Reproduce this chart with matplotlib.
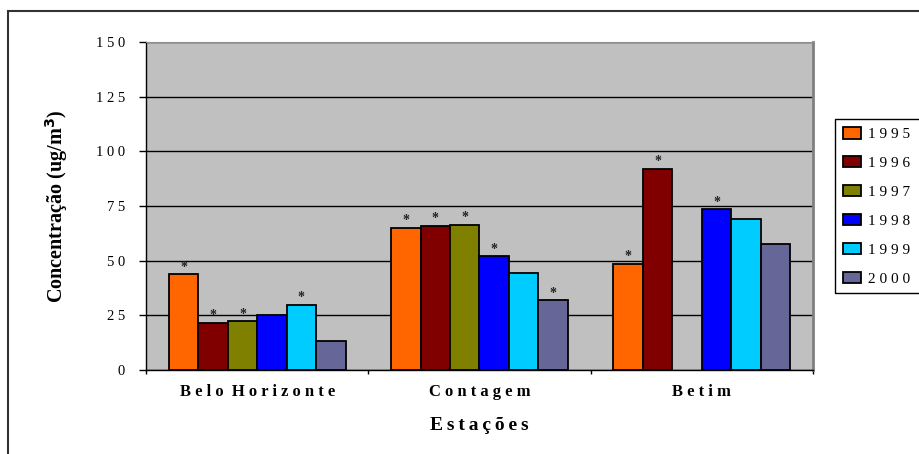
import numpy as np
import matplotlib
matplotlib.use("Agg")
import matplotlib.pyplot as plt
from matplotlib.patches import Rectangle

plt.rcParams['font.family'] = ['Liberation Serif', 'DejaVu Serif']

# Stations (categories) and yearly mean concentrations (ug/m3)
estacoes = ["Belo Horizonte", "Contagem", "Betim"]
anos = ["1995", "1996", "1997", "1998", "1999", "2000"]

v1995 = [43.8, 65.0, 48.5]
v1996 = [21.7, 65.8, 92.1]
v1997 = [22.2, 66.4, np.nan]
v1998 = [25.0, 52.0, 73.4]
v1999 = [29.8, 44.4, 69.2]
v2000 = [13.2, 31.8, 57.5]

# Years flagged with an asterisk at each station
m1995 = [True, True, True]
m1996 = [True, True, True]
m1997 = [True, True, False]
m1998 = [False, True, True]
m1999 = [True, False, False]
m2000 = [False, True, False]

y_ticks = [0, 25, 50, 75, 100, 125, 150]

series = [v1995, v1996, v1997, v1998, v1999, v2000]
marks = [m1995, m1996, m1997, m1998, m1999, m2000]
colors = ["#FF6600", "#800000", "#808000", "#0000FF", "#00CCFF", "#666699"]


def spaced(text, gap=" "):
    return (gap * 2).join(gap.join(w) for w in text.split(" "))


W, H = 919, 454
fig = plt.figure(figsize=(W / 100, H / 100), dpi=100)
ax = fig.add_axes([146 / W, 1 - 370 / H, 667 / W, 328 / H])
ax.set_facecolor("#C0C0C0")

x = np.arange(len(estacoes))
bw = 0.1325
handles = []
for i, (vals, col, mk) in enumerate(zip(series, colors, marks)):
    pos = x + (i - 2.5) * bw
    b = ax.bar(pos, vals, width=bw, color=col, edgecolor="black",
               linewidth=1.3, zorder=3, label=spaced(anos[i]))
    handles.append(b)
    for p, v, flag in zip(pos, vals, mk):
        if flag and not np.isnan(v):
            ax.annotate("*", (p, v), xytext=(0, 0.5), textcoords="offset points",
                        ha="center", va="bottom", fontsize=10, fontweight="bold",
                        color="#222222", zorder=4)

ax.set_xlim(-0.5, 2.5)
ax.set_ylim(0, 150)
ax.set_yticks(y_ticks)
ax.set_yticklabels([spaced(str(t)) for t in y_ticks], fontsize=10.5)
ax.yaxis.grid(True, color="black", linewidth=1.0, zorder=1)
ax.set_axisbelow(True)

ax.set_xticks([-0.5, 0.5, 1.5, 2.5])
ax.set_xticklabels([])
ax.set_xticks(x, minor=True)
ax.set_xticklabels([spaced(e) for e in estacoes], minor=True,
                   fontsize=12, fontweight="bold")
ax.tick_params(axis="x", which="minor", length=0, pad=10)
ax.tick_params(axis="x", which="major", length=3, direction="out", width=1)
ax.tick_params(axis="y", length=5, direction="out", width=1, pad=10)

for s in ["left", "bottom"]:
    ax.spines[s].set_color("black")
    ax.spines[s].set_linewidth(1.0)
ax.spines["top"].set_color("#909090")
ax.spines["right"].set_color("#808080")
ax.spines["right"].set_linewidth(2.0)

ax.set_xlabel(spaced("Estações", "\u2009"), fontsize=14, fontweight="bold",
              va="center")
ax.xaxis.set_label_coords(0.5, (370 - 425) / 328)
ax.set_ylabel(r"Concentração (ug/m$^{\mathbf{3}}$)", fontsize=14.5,
              fontweight="bold", va="center")
ax.yaxis.set_label_coords((57 - 146) / 667, 0.5)

leg = fig.legend(handles=handles, loc="upper left",
                 bbox_to_anchor=(835 / W, 1 - 119 / H), frameon=True,
                 fancybox=False, fontsize=11, handlelength=1.15,
                 handleheight=0.75, handletextpad=0.45, labelspacing=0.98,
                 borderpad=0.55, borderaxespad=0)
leg.get_frame().set_visible(False)

# Legend box, running off the right edge of the chart area
fig.add_artist(Rectangle((835 / W, 1 - 293 / H), 0.2, (293 - 119) / H,
                         transform=fig.transFigure, fill=False,
                         edgecolor="black", linewidth=1.0, clip_on=False))

# Outer chart-area border (top and left edges)
fig.add_artist(Rectangle((8 / W, -0.2), 1.2, 1.2 - 11 / H,
                         transform=fig.transFigure, fill=False,
                         edgecolor="#333333", linewidth=1.5, clip_on=False))

fig.savefig("out.png", dpi=100)
